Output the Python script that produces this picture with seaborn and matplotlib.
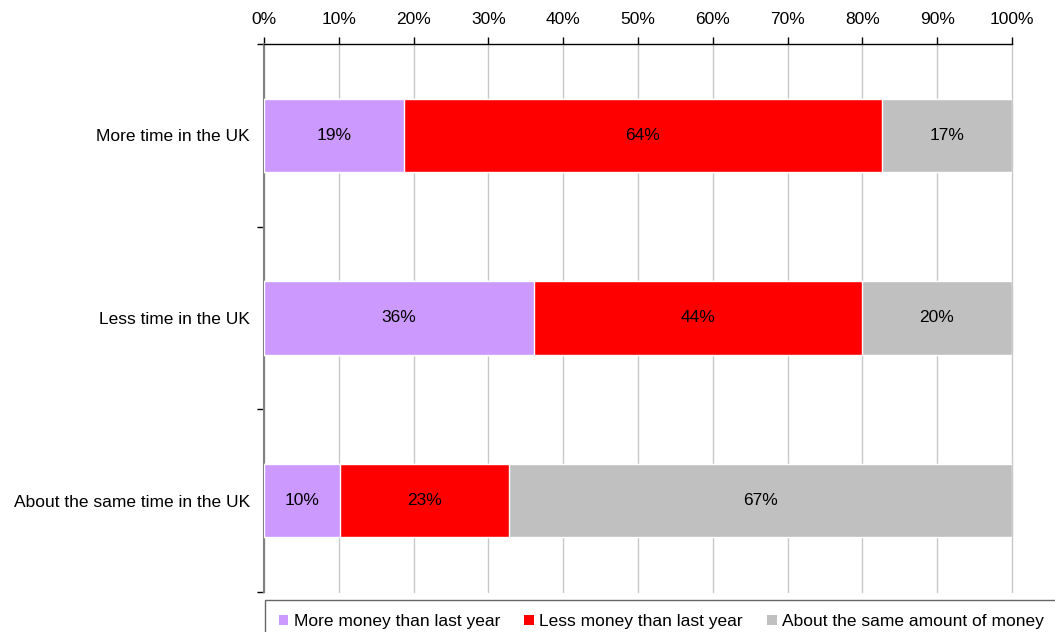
import numpy as np
import pandas as pd
import matplotlib
matplotlib.use("Agg")
import matplotlib.pyplot as plt
from matplotlib.patches import Patch
from matplotlib.ticker import FixedLocator, PercentFormatter
import seaborn as sns

categories = ["More time in the UK", "Less time in the UK", "About the same time in the UK"]
more_money = [18.7, 36.1, 10.2]
less_money = [63.9, 43.8, 22.6]
same_money = [17.4, 20.1, 67.2]
series_names = ["More money than last year", "Less money than last year",
                "About the same amount of money"]
colors = ["#cc99ff", "#ff0000", "#c0c0c0"]

sns.set_theme(style="white")
plt.rcParams["font.family"] = ["Liberation Sans", "DejaVu Sans"]
plt.rcParams["font.size"] = 12.5
plt.rcParams["text.color"] = "black"
plt.rcParams["xtick.color"] = "black"
plt.rcParams["ytick.color"] = "black"

df = pd.DataFrame({"category": categories, "more": more_money,
                   "less": less_money, "same": same_money})
df["cum1"] = df["more"]
df["cum2"] = df["more"] + df["less"]
df["cum3"] = df["cum2"] + df["same"]

fig = plt.figure(figsize=(10.55, 6.32), dpi=100)
ax = fig.add_axes([264 / 1055, 1 - 592 / 632, (1012 - 264) / 1055, (592 - 44) / 632])

# draw from the total down so each layer sits on top of the previous one
for col, c in zip(["cum3", "cum2", "cum1"], colors[::-1]):
    sns.barplot(data=df, x=col, y="category", orient="h", color=c, saturation=1,
                width=0.4, edgecolor="white", linewidth=1, ax=ax, zorder=3)

# value labels in the middle of each segment
for i, row in df.iterrows():
    starts = [0, row["cum1"], row["cum2"]]
    for s, v in zip(starts, [row["more"], row["less"], row["same"]]):
        ax.text(s + v / 2, i, f"{v:.0f}%", ha="center", va="center",
                fontsize=12.5, color="black", zorder=4)

ax.set_xlim(0, 100)
ax.set_ylim(2.5, -0.5)
ax.set_xlabel("")
ax.set_ylabel("")

ax.xaxis.set_major_locator(FixedLocator(np.arange(0, 101, 10)))
ax.xaxis.set_major_formatter(PercentFormatter(decimals=0))
ax.xaxis.tick_top()
ax.tick_params(axis="x", which="major", direction="out", length=5, width=1,
               color="black", labelsize=12.5, pad=7)
ax.grid(axis="x", color="#c8c8c8", linewidth=1, zorder=0, clip_on=False)
ax.set_axisbelow(True)

ax.set_yticks(range(len(categories)))
ax.set_yticklabels(categories)
ax.yaxis.set_minor_locator(FixedLocator([-0.5, 0.5, 1.5, 2.5]))
ax.tick_params(axis="y", which="major", length=0, labelsize=12.5, pad=10)
ax.tick_params(axis="y", which="minor", direction="out", length=5, width=1,
               color="black", left=True)

for side in ["right", "bottom"]:
    ax.spines[side].set_visible(False)
ax.spines["top"].set_color("black")
ax.spines["top"].set_linewidth(1)
ax.spines["left"].set_color("#808080")
ax.spines["left"].set_linewidth(1.5)

handles = [Patch(facecolor=c, edgecolor="none", label=n) for c, n in zip(colors, series_names)]
leg = fig.legend(handles=handles, loc="upper left", bbox_to_anchor=(265 / 1055, 1 - 600 / 632),
                 ncol=3, frameon=True, fancybox=False, fontsize=12.5, handlelength=0.55,
                 handleheight=0.55, handletextpad=0.3, columnspacing=1.4,
                 borderpad=0.8, borderaxespad=0)
leg.get_frame().set_edgecolor("#404040")
leg.get_frame().set_linewidth(1)

fig.savefig("out.png", dpi=100)
